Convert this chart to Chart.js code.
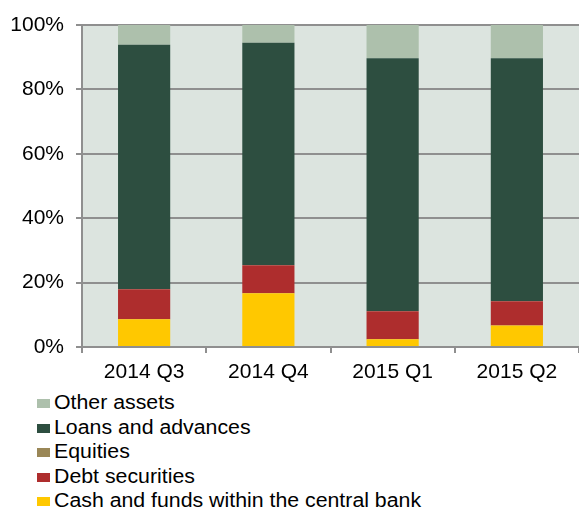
<!DOCTYPE html>
<html>
<head>
<meta charset="utf-8">
<script src="https://cdn.jsdelivr.net/npm/chart.js@4"></script>
<style>
  body { margin: 0; background: #fff; font-family: "Liberation Sans", Arial, sans-serif; }
  #wrap { position: relative; width: 579px; height: 508px; }
  #legend { position: absolute; left: 37px; top: 390px; font-size: 20px; color: #000; }
  .row { height: 24.5px; line-height: 24.5px; white-space: nowrap; }
  .box { display: inline-block; width: 13px; height: 9px; margin-right: 4px; vertical-align: 1px; }
  .txt { display: inline-block; transform: scaleX(1.065); transform-origin: left center; }
</style>
</head>
<body>
<div id="wrap">
  <canvas id="assetChart" width="579" height="390"></canvas>
  <div id="legend"></div>
</div>
<script>
// asset structure, share of total (%)
const quarters = ["2014 Q3", "2014 Q4", "2015 Q1", "2015 Q2"];

const cashFunds = [8.6, 16.7, 2.4, 6.7];
const debtSecurities = [9.3, 8.7, 8.7, 7.5];
const equities = [0.1, 0.1, 0.1, 0.1];
const loansAdvances = [75.9, 69.0, 78.5, 75.4];
const otherAssets = [6.1, 5.5, 10.3, 10.3];

const yTicks = [0, 20, 40, 60, 80, 100];

const gridGray = "#8f8f8f";

// plot background
const plotBg = {
  id: "plotBg",
  beforeDraw(chart) {
    const a = chart.chartArea;
    const c = chart.ctx;
    c.save();
    c.fillStyle = "#dce4df";
    c.fillRect(a.left, a.top, a.right - a.left, a.bottom - a.top);
    c.restore();
  }
};

Chart.defaults.font.family = "'Liberation Sans', Arial, sans-serif";
Chart.defaults.font.size = 21;
Chart.defaults.color = "#000";

const ctx = document.getElementById("assetChart").getContext("2d");
const chart = new Chart(ctx, {
  type: "bar",
  data: {
    labels: quarters,
    datasets: [
      { label: "Cash and funds within the central bank", data: cashFunds, backgroundColor: "#ffc800" },
      { label: "Debt securities", data: debtSecurities, backgroundColor: "#ae2d2d" },
      { label: "Equities", data: equities, backgroundColor: "#9a8757" },
      { label: "Loans and advances", data: loansAdvances, backgroundColor: "#2d4e40" },
      { label: "Other assets", data: otherAssets, backgroundColor: "#adc0ac" }
    ]
  },
  options: {
    responsive: false,
    animation: false,
    datasets: { bar: { barPercentage: 0.42, categoryPercentage: 1, borderWidth: 0 } },
    layout: { padding: { top: 25, right: 0, left: 0, bottom: 0 } },
    plugins: {
      legend: { display: false },
      tooltip: { enabled: false }
    },
    scales: {
      x: {
        stacked: true,
        offset: true,
        grid: { offset: true, drawOnChartArea: false, color: gridGray, lineWidth: 2, tickLength: 6 },
        border: { color: gridGray, width: 2 },
        ticks: { padding: 7 },
        afterFit(s) { s.height = 43; }
      },
      y: {
        stacked: true,
        min: 0,
        max: 100,
        afterBuildTicks(s) { s.ticks = yTicks.map(v => ({ value: v })); },
        grid: { color: gridGray, lineWidth: 2, tickLength: 6 },
        border: { color: gridGray, width: 2 },
        ticks: { padding: 12, callback: v => v + "%" },
        afterFit(s) { s.width = 82; }
      }
    }
  },
  plugins: [plotBg]
});

// legend, top to bottom = reverse stack order
const legendEl = document.getElementById("legend");
chart.data.datasets.slice().reverse().forEach(ds => {
  const row = document.createElement("div");
  row.className = "row";
  const box = document.createElement("span");
  box.className = "box";
  box.style.background = ds.backgroundColor;
  const txt = document.createElement("span");
  txt.className = "txt";
  txt.textContent = ds.label;
  row.appendChild(box);
  row.appendChild(txt);
  legendEl.appendChild(row);
});
</script>
</body>
</html>
